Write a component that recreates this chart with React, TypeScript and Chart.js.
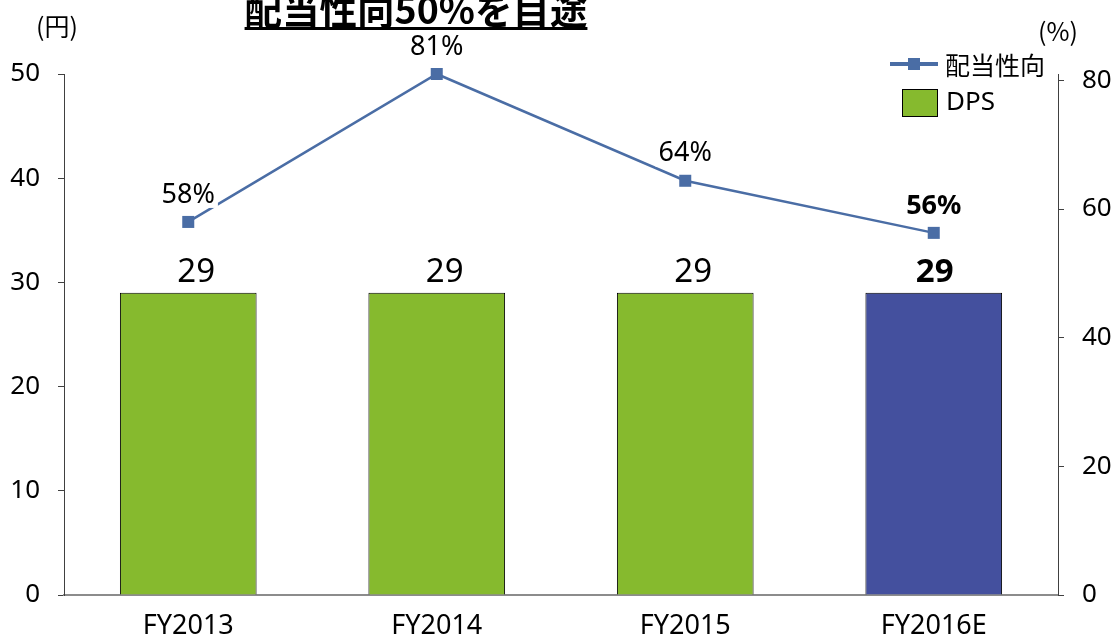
import React, { useEffect, useRef } from "react";
import { Chart, registerables } from "chart.js";

Chart.register(...registerables);

const categories = ["FY2013", "FY2014", "FY2015", "FY2016E"];
const dpsValues = [29, 29, 29, 29];
const payoutRatios = [58.0, 81.0, 64.4, 56.3];
const leftTicks = [0, 10, 20, 30, 40, 50];
const rightTicks = [0, 20, 40, 60, 80];
const barColors = ["#86BA2E", "#86BA2E", "#86BA2E", "#44509E"];
const titleText = "配当性向50%を目途";
const lineLabel = "配当性向";
const barLabel = "DPS";

const FONT = '"Noto Sans", "Noto Sans CJK JP", sans-serif';
const JFONT = '"Noto Sans CJK JP", "Noto Sans", sans-serif';
const LINE_COLOR = "#4A6DA5";

const overlayPlugin = {
  id: "overlay",
  afterDatasetsDraw(chart: any) {
    const ctx = chart.ctx;
    ctx.save();
    // bar labels
    const barMeta = chart.getDatasetMeta(1);
    barMeta.data.forEach((bar: any, i: number) => {
      const last = i === categories.length - 1;
      ctx.font = `${last ? "bold " : ""}33px ${FONT}`;
      ctx.fillStyle = "#000";
      ctx.textAlign = "center";
      ctx.textBaseline = "middle";
      ctx.fillText(String(dpsValues[i]), bar.x + (last ? 1 : 8), bar.y - 20);
    });
    // line labels
    const lineMeta = chart.getDatasetMeta(0);
    lineMeta.data.forEach((pt: any, i: number) => {
      const last = i === categories.length - 1;
      ctx.font = `${last ? "bold " : ""}27px ${FONT}`;
      const txt = `${Math.round(payoutRatios[i])}%`;
      const w = ctx.measureText(txt).width;
      const cy = pt.y - 27;
      ctx.fillStyle = "#fff";
      ctx.fillRect(pt.x - w / 2 - 3, cy - 13, w + 6, 26);
      ctx.fillStyle = "#000";
      ctx.textAlign = "center";
      ctx.textBaseline = "middle";
      ctx.fillText(txt, pt.x, cy);
    });
    ctx.restore();
  },
  afterDraw(chart: any) {
    const ctx = chart.ctx;
    ctx.save();
    // title
    ctx.font = `bold 37.5px ${JFONT}`;
    ctx.fillStyle = "#000";
    ctx.textAlign = "center";
    ctx.textBaseline = "alphabetic";
    const tw = ctx.measureText(titleText).width;
    ctx.fillText(titleText, 416, 24);
    ctx.fillRect(416 - tw / 2, 27, tw, 3);
    // unit labels
    ctx.font = `25px ${JFONT}`;
    ctx.textBaseline = "middle";
    ctx.fillText("(円)", 57, 26);
    ctx.fillText("(%)", 1058, 31);
    // legend
    ctx.strokeStyle = LINE_COLOR;
    ctx.lineWidth = 4;
    ctx.beginPath();
    ctx.moveTo(890, 64);
    ctx.lineTo(938, 64);
    ctx.stroke();
    ctx.fillStyle = LINE_COLOR;
    ctx.fillRect(908, 58, 12, 12);
    ctx.fillStyle = barColors[0];
    ctx.fillRect(902, 89, 36, 28);
    ctx.strokeStyle = "#000";
    ctx.lineWidth = 1;
    ctx.strokeRect(902.5, 89.5, 35, 27);
    ctx.fillStyle = "#000";
    ctx.textAlign = "left";
    ctx.font = `25px ${JFONT}`;
    ctx.fillText(lineLabel, 945, 65);
    ctx.font = `26px ${FONT}`;
    ctx.fillText(barLabel, 946, 103);
    ctx.restore();
  },
};

export default function App() {
  const ref = useRef<HTMLCanvasElement | null>(null);
  useEffect(() => {
    if (!ref.current) return;
    const chart = new Chart(ref.current, {
      type: "bar",
      data: {
        labels: categories,
        datasets: [
          {
            type: "line",
            label: lineLabel,
            data: payoutRatios,
            yAxisID: "y1",
            borderColor: LINE_COLOR,
            backgroundColor: LINE_COLOR,
            borderWidth: 2.5,
            pointStyle: "rect",
            pointRadius: 8.5,
            pointBackgroundColor: LINE_COLOR,
            pointBorderWidth: 0,
            clip: false,
            order: 0,
          } as any,
          {
            type: "bar",
            label: barLabel,
            data: dpsValues,
            yAxisID: "y",
            backgroundColor: barColors,
            borderColor: "#000",
            borderWidth: 1,
            categoryPercentage: 1,
            barPercentage: 0.55,
            order: 1,
          },
        ],
      },
      options: {
        animation: false,
        responsive: false,
        layout: { padding: { top: 74, left: 0, right: 0, bottom: 0 } },
        plugins: { legend: { display: false }, tooltip: { enabled: false }, title: { display: false } },
        scales: {
          x: {
            grid: { display: false, drawTicks: false },
            border: { color: "#8C8C8C", width: 2 },
            ticks: { color: "#000", font: { size: 27, family: FONT }, padding: 15 },
            afterFit: (s: any) => { s.height = 44; },
          },
          y: {
            position: "left",
            min: 0,
            max: 50,
            grid: { drawOnChartArea: false, drawTicks: true, tickLength: 6, color: "#404040" },
            border: { color: "#404040", width: 1 },
            afterBuildTicks: (s: any) => { s.ticks = leftTicks.map((v) => ({ value: v })); },
            ticks: { color: "#000", font: { size: 26, family: FONT }, padding: 18 },
            afterFit: (s: any) => { s.width = 64; },
          },
          y1: {
            position: "right",
            min: 0,
            max: 81,
            grid: { drawOnChartArea: false, drawTicks: true, tickLength: 6, color: "#404040" },
            border: { color: "#404040", width: 1 },
            afterBuildTicks: (s: any) => { s.ticks = rightTicks.map((v) => ({ value: v })); },
            ticks: { color: "#000", font: { size: 26, family: FONT }, padding: 18 },
            afterFit: (s: any) => { s.width = 57; },
          },
        },
      },
      plugins: [overlayPlugin],
    });
    return () => chart.destroy();
  }, []);
  return (
    <div style={{ position: "fixed", left: 0, top: 0, width: 1115, height: 639, background: "#fff" }}>
      <canvas ref={ref} width={1115} height={639} style={{ width: 1115, height: 639, display: "block" }} />
    </div>
  );
}
